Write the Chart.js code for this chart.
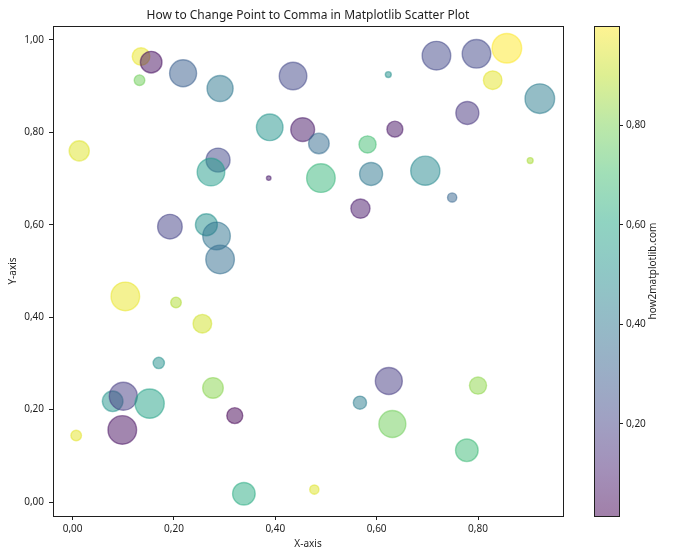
<!DOCTYPE html>
<html><head><meta charset="utf-8">
<script src="https://cdn.jsdelivr.net/npm/chart.js@4.4.1/dist/chart.umd.min.js"></script>
<style>
html,body{margin:0;padding:0;background:#fff;}
#wrap{position:relative;width:700px;height:560px;background:#fff;}
#main{position:absolute;left:0;top:0;}
#cbar{position:absolute;left:560px;top:0;}
</style></head><body>
<div id="wrap">
<canvas id="main" width="700" height="560"></canvas>
<canvas id="cbar" width="140" height="560"></canvas>
</div>
<script>
// ---- data ----
const xValues = [0.135,0.155,0.132,0.218,0.291,0.435,0.389,0.454,0.486,0.013,0.287,0.273,0.387,0.490,0.192,0.264,0.284,0.291,0.718,0.797,0.857,0.829,0.623,0.922,0.779,0.636,0.582,0.589,0.696,0.903,0.749,0.568,0.104,0.204,0.256,0.170,0.277,0.079,0.100,0.152,0.320,0.098,0.007,0.338,0.477,0.624,0.800,0.567,0.631,0.778];
const yValues = [0.964,0.952,0.913,0.928,0.895,0.922,0.811,0.806,0.776,0.760,0.740,0.714,0.701,0.701,0.596,0.600,0.576,0.525,0.966,0.970,0.982,0.913,0.925,0.873,0.842,0.807,0.774,0.710,0.717,0.739,0.659,0.635,0.445,0.432,0.386,0.301,0.247,0.218,0.229,0.213,0.187,0.156,0.144,0.018,0.027,0.262,0.252,0.215,0.169,0.112];
const sizeValues = [328,494,119,770,720,806,748,600,449,430,610,806,22,865,640,510,806,865,865,865,927,366,37,927,560,270,310,560,900,37,90,390,865,119,366,135,449,449,830,900,270,865,119,540,90,770,310,185,770,540];
const colorValues = [0.97,0.05,0.78,0.30,0.40,0.22,0.52,0.07,0.35,0.95,0.22,0.55,0.08,0.66,0.20,0.50,0.38,0.36,0.22,0.22,1.00,0.96,0.50,0.42,0.16,0.06,0.70,0.40,0.47,0.87,0.33,0.08,0.97,0.88,0.93,0.50,0.82,0.52,0.18,0.58,0.015,0.05,0.96,0.62,0.95,0.18,0.83,0.42,0.78,0.68];
const xTickValues = [0, 0.2, 0.4, 0.6, 0.8];
const yTickValues = [0, 0.2, 0.4, 0.6, 0.8, 1.0];
const cbarTickValues = [0.2, 0.4, 0.6, 0.8];
const titleText = 'How to Change Point to Comma in Matplotlib Scatter Plot';
const xLabel = 'X-axis';
const yLabel = 'Y-axis';
const cbarLabel = 'how2matplotlib.com';

// ---- helpers ----
const FONT = "'Noto Sans', 'Open Sans', sans-serif";
const TXT = '#1f1f1f';
const fmt = v => Number(v).toFixed(2).replace('.', ',');
const VIR = ['#440154','#482475','#414487','#355f8d','#2a788e','#21918c','#22a884','#44bf70','#7ad151','#bddf26','#fde725'];
const VIRRGB = VIR.map(h => [parseInt(h.slice(1,3),16), parseInt(h.slice(3,5),16), parseInt(h.slice(5,7),16)]);
function viridis(t, a) {
  t = Math.max(0, Math.min(1, t));
  const p = t * (VIRRGB.length - 1);
  const i = Math.min(Math.floor(p), VIRRGB.length - 2);
  const f = p - i;
  const c = VIRRGB[i].map((v, k) => Math.round(v + (VIRRGB[i+1][k] - v) * f));
  return `rgba(${c[0]},${c[1]},${c[2]},${a})`;
}
const cMin = Math.min(...colorValues), cMax = Math.max(...colorValues);
const norm = c => (c - cMin) / (cMax - cMin);
const sizeToRadius = s => Math.sqrt(s) / 2 * 70 / 72;
function padLimits(arr) {
  const mn = Math.min(...arr), mx = Math.max(...arr), r = mx - mn;
  return [mn - 0.05 * r, mx + 0.05 * r];
}
const [xMin, xMax] = padLimits(xValues);
const [yMin, yMax] = padLimits(yValues);

const framePlugin = {
  id: 'frame',
  afterDraw(chart) {
    const {ctx, chartArea: a} = chart;
    ctx.save();
    ctx.strokeStyle = TXT; ctx.lineWidth = 1;
    ctx.strokeRect(Math.round(a.left) + 0.5, Math.round(a.top) + 0.5, Math.round(a.right - a.left), Math.round(a.bottom - a.top));
    ctx.restore();
  }
};

new Chart(document.getElementById('main'), {
  type: 'bubble',
  data: {
    datasets: [{
      data: xValues.map((x, i) => ({x: x, y: yValues[i], r: sizeToRadius(sizeValues[i])})),
      backgroundColor: ctx => viridis(norm(colorValues[ctx.dataIndex]), 0.5),
      borderColor: ctx => viridis(norm(colorValues[ctx.dataIndex]), 0.5),
      borderWidth: 1.4,
      hoverRadius: 0
    }]
  },
  options: {
    responsive: false, animation: false, events: [],
    layout: {padding: {left: 0, right: 137, top: 0, bottom: 0}},
    plugins: {
      legend: {display: false}, tooltip: {enabled: false},
      title: {display: true, text: titleText, fullSize: false, color: TXT,
        font: {family: FONT, size: 12, weight: 'normal', lineHeight: 1.2},
        padding: {top: 8.3, bottom: 3.3}}
    },
    scales: {
      x: {
        type: 'linear', min: xMin, max: xMax,
        afterBuildTicks: s => { s.ticks = xTickValues.map(v => ({value: v})); },
        afterFit: s => { s.height = 44; },
        grid: {display: true, drawOnChartArea: false, drawTicks: true, tickLength: 4, color: TXT, tickColor: TXT},
        border: {display: true, color: TXT, width: 1},
        ticks: {callback: v => fmt(v), font: {family: FONT, size: 10}, color: TXT, padding: 3, maxRotation: 0, autoSkip: false},
        title: {display: true, text: xLabel, color: TXT, font: {family: FONT, size: 10}, padding: {top: 0, bottom: 10}}
      },
      y: {
        type: 'linear', min: yMin, max: yMax,
        afterBuildTicks: s => { s.ticks = yTickValues.map(v => ({value: v})); },
        afterFit: s => { s.width = 53; },
        grid: {display: true, drawOnChartArea: false, drawTicks: true, tickLength: 4, color: TXT, tickColor: TXT},
        border: {display: true, color: TXT, width: 1},
        ticks: {callback: v => fmt(v), font: {family: FONT, size: 10}, color: TXT, padding: 5, autoSkip: false},
        title: {display: true, text: yLabel, color: TXT, font: {family: FONT, size: 10}, padding: {top: 7, bottom: 0}}
      }
    }
  },
  plugins: [framePlugin]
});

const cbarLabelPlugin = {
  id: 'cbarLabel',
  afterDraw(chart) {
    const {ctx, chartArea: a} = chart;
    ctx.save();
    ctx.fillStyle = TXT;
    ctx.font = `10px ${FONT}`;
    ctx.textAlign = 'center'; ctx.textBaseline = 'middle';
    ctx.translate(a.right + 34, (a.top + a.bottom) / 2);
    ctx.rotate(-Math.PI / 2);
    ctx.fillText(cbarLabel, 0, 0);
    ctx.restore();
  }
};

new Chart(document.getElementById('cbar'), {
  type: 'bar',
  data: {
    labels: [''],
    datasets: [{
      data: [[cMin, cMax]],
      backgroundColor: ctx => {
        const a = ctx.chart.chartArea;
        if (!a) return 'rgba(0,0,0,0)';
        const g = ctx.chart.ctx.createLinearGradient(0, a.bottom, 0, a.top);
        for (let k = 0; k <= 40; k++) g.addColorStop(k / 40, viridis(k / 40, 0.5));
        return g;
      },
      borderWidth: 0, barPercentage: 1, categoryPercentage: 1
    }]
  },
  options: {
    responsive: false, animation: false, events: [],
    layout: {padding: {left: 34, top: 26, bottom: 44, right: 0}},
    plugins: {legend: {display: false}, tooltip: {enabled: false}},
    scales: {
      x: {display: false},
      y: {
        position: 'right', min: cMin, max: cMax,
        afterBuildTicks: s => { s.ticks = cbarTickValues.map(v => ({value: v})); },
        afterFit: s => { s.width = 81; },
        grid: {display: true, drawOnChartArea: false, drawTicks: true, tickLength: 4, color: TXT, tickColor: TXT},
        border: {display: false},
        ticks: {callback: v => fmt(v), font: {family: FONT, size: 10}, color: TXT, padding: 3, autoSkip: false}
      }
    }
  },
  plugins: [framePlugin, cbarLabelPlugin]
});
</script>
</body></html>
